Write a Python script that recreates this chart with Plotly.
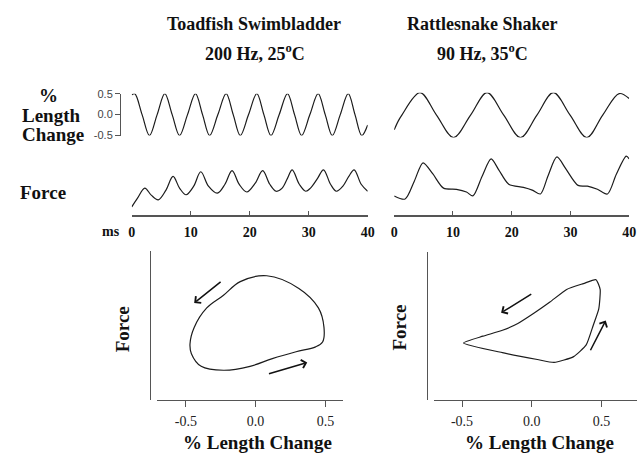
import plotly.graph_objects as go

# ---------------- data ----------------
# Toadfish swimbladder, time traces (ms)
toad_len_t = [0, 0.5, 1.75, 3.0, 4.3, 5.6, 6.85, 8.1, 9.45, 10.8, 12.0, 13.2, 14.6, 16.0,
              17.2, 18.4, 19.8, 21.2, 22.4, 23.6, 25.0, 26.4, 27.6, 28.8, 30.2, 31.6,
              32.8, 34.0, 35.35, 36.7, 37.85, 39.0, 40.0]
toad_len_v = [0.47, 0.5, 0.0, -0.5, 0.0, 0.5, 0.0, -0.5, 0.0, 0.5, 0.0, -0.5, 0.0, 0.5,
              0.0, -0.5, 0.0, 0.5, 0.0, -0.5, 0.0, 0.5, 0.0, -0.5, 0.0, 0.5,
              0.0, -0.5, 0.0, 0.5, 0.0, -0.5, -0.25]
toad_force_t = [0, 1.0, 2.2, 3.3, 4.5, 5.8, 7.0, 8.1, 9.2, 10.5, 11.7, 13.0, 14.5, 15.8,
                17.0, 18.2, 19.5, 20.9, 22.2, 23.4, 24.5, 25.5, 26.4, 27.2, 28.4, 29.5,
                30.3, 31.5, 32.5, 33.7, 34.7, 35.8, 36.8, 37.7, 38.9, 40.0]
toad_force_v = [0.02, 0.25, 0.50, 0.32, 0.20, 0.45, 0.80, 0.50, 0.33, 0.55, 0.92, 0.55,
                0.37, 0.60, 0.95, 0.60, 0.40, 0.62, 0.95, 0.60, 0.42, 0.50, 0.75, 0.97,
                0.60, 0.42, 0.50, 0.75, 0.97, 0.60, 0.42, 0.55, 0.80, 0.97, 0.60, 0.42]

# Rattlesnake shaker, time traces (ms)
rattle_len_t = [0, 0.7, 1.3, 4.4, 7.2, 10.1, 13.0, 15.8, 18.65, 21.5, 24.3, 27.1, 29.95,
                32.8, 35.5, 38.3, 40.0]
rattle_len_v = [-0.33, -0.13, 0.0, 0.5, 0.0, -0.5, 0.0, 0.5, 0.0, -0.5, 0.0, 0.5, 0.0,
                -0.5, 0.0, 0.48, 0.37]
rattle_force_t = [0, 1.85, 3.4, 4.9, 6.55, 8.4, 10.6, 12.3, 13.4, 14.95, 16.5, 17.8, 19.5,
                  22.0, 23.5, 24.9, 26.2, 27.7, 29.2, 31.3, 32.9, 34.6, 36.3, 37.8, 39.5, 40.0]
rattle_force_v = [0.30, 0.22, 0.67, 1.15, 0.87, 0.50, 0.47, 0.40, 0.30, 0.80, 1.25, 0.97,
                  0.60, 0.52, 0.45, 0.35, 0.82, 1.30, 1.00, 0.57, 0.55, 0.47, 0.35, 0.85,
                  1.32, 1.25]

# Work loops (force vs % length change)
toad_loop_len = [0.08, 0.31, 0.45, 0.49, 0.48, 0.43, 0.29, 0.12, -0.04, -0.23, -0.39,
                 -0.46, -0.47, -0.44, -0.35, -0.23, -0.11, 0.08]
toad_loop_force = [1.03, 0.90, 0.70, 0.50, 0.35, 0.30, 0.25, 0.18, 0.10, 0.06, 0.10,
                   0.23, 0.33, 0.50, 0.70, 0.83, 0.97, 1.03]
rattle_loop_len = [-0.49, -0.35, -0.21, -0.10, 0.02, 0.13, 0.25, 0.37, 0.46, 0.49, 0.48,
                   0.44, 0.39, 0.30, 0.16, 0.04, -0.21, -0.49]
rattle_loop_force = [0.32, 0.39, 0.45, 0.52, 0.63, 0.74, 0.87, 0.93, 0.97, 0.87, 0.67,
                     0.50, 0.30, 0.18, 0.12, 0.15, 0.22, 0.32]

# arrows on loops: (tail_len, tail_force, head_len, head_force)
toad_arrows = [(-0.24, 0.98, -0.44, 0.75), (0.085, 0.02, 0.37, 0.14)]
rattle_arrows = [(0.007, 0.83, -0.22, 0.63), (0.415, 0.23, 0.53, 0.55)]

time_ticks = [0, 10, 20, 30, 40]
time_tick_text = ['<b>0</b>', '<b>10</b>', '<b>20</b>', '<b>30</b>', '<b>40</b>']
len_ticks = [-0.5, 0.0, 0.5]
len_tick_text = ['-0.5', '0.0', '0.5']

# ---------------- layout helpers ----------------
W, H = 644, 460
def px(p):
    return p / W
def py(p):
    return 1 - p / H

LINE = '#1c1c1c'
AX = '#555555'
SERIF = 'Liberation Serif, Times New Roman, serif'

fig = go.Figure()

def trace(x, y, xa, ya, shape='spline', smooth=1.0):
    fig.add_trace(go.Scatter(x=x, y=y, xaxis=xa, yaxis=ya, mode='lines',
                             line=dict(color=LINE, width=1.2, shape=shape, smoothing=smooth),
                             hoverinfo='skip', showlegend=False))

trace(toad_len_t, toad_len_v, 'x', 'y')
trace(toad_force_t, toad_force_v, 'x2', 'y2')
trace(rattle_len_t, rattle_len_v, 'x3', 'y3')
trace(rattle_force_t, rattle_force_v, 'x4', 'y4', smooth=0.8)
trace(toad_loop_len, toad_loop_force, 'x5', 'y5')
trace(rattle_loop_len, rattle_loop_force, 'x6', 'y6', smooth=0.5)

hidden = dict(visible=False, showgrid=False, zeroline=False)
quiet_y = dict(showline=False, ticks='', showticklabels=False,
               showgrid=False, zeroline=False)
time_axis = dict(range=[0, 40], showline=True, linecolor='#555555', linewidth=1.5,
                 ticks='inside', ticklen=5, tickwidth=1.2, tickcolor='#555555',
                 tickvals=time_ticks, ticktext=time_tick_text,
                 showgrid=False, zeroline=False, ticklabelstandoff=3,
                 tickfont=dict(family=SERIF, size=14, color='#111'))
loop_x = dict(showline=True, linecolor=AX, linewidth=1, ticks='outside', ticklen=6,
              tickcolor=AX, tickvals=len_ticks, ticktext=len_tick_text, showgrid=False,
              zeroline=False, tickfont=dict(family=SERIF, size=14, color='#222'),
              ticklabelstandoff=2)
loop_y = dict(showline=True, linecolor=AX, linewidth=1, ticks='', showticklabels=False,
              showgrid=False, zeroline=False)

fig.update_layout(
    width=W, height=H, margin=dict(l=0, r=0, t=0, b=0),
    font=dict(family=SERIF, color='#111'),
    paper_bgcolor='white', plot_bgcolor='rgba(0,0,0,0)', showlegend=False,
    xaxis=dict(domain=[px(130), px(370)], range=[0, 40], anchor='y', **hidden),
    yaxis=dict(domain=[py(133), py(90)], range=[-0.5, 0.5], anchor='free', position=px(118),
               showline=True, linecolor=AX, linewidth=1, ticks='outside', ticklen=5,
               tickcolor=AX, tickvals=len_ticks, ticktext=len_tick_text, showgrid=False,
               zeroline=False, tickfont=dict(family='Liberation Sans, Arial, sans-serif',
                                             size=11, color='#444')),
    xaxis2=dict(domain=[px(130), px(370)], anchor='y2', **time_axis),
    yaxis2=dict(domain=[py(215), py(160)], range=[-0.2, 1.175], anchor='x2', **quiet_y),
    xaxis3=dict(domain=[px(397), px(636)], range=[0, 40], anchor='y3', **hidden),
    yaxis3=dict(domain=[py(135), py(89)], range=[-0.5, 0.5], anchor='x3', **hidden),
    xaxis4=dict(domain=[px(397), px(636)], anchor='y4', **time_axis),
    yaxis4=dict(domain=[py(215), py(150)], range=[-0.2, 1.425], anchor='x4', **quiet_y),
    xaxis5=dict(domain=[px(156), px(345)], range=[-0.704, 0.627], anchor='y5', **loop_x),
    yaxis5=dict(domain=[py(405), py(252)], range=[-0.25, 1.28], anchor='free',
                position=px(149), **loop_y),
    xaxis6=dict(domain=[px(437), 1.0], range=[-0.704, 0.754], anchor='y6', **loop_x),
    yaxis6=dict(domain=[py(405), py(253)], range=[-0.27, 1.25], anchor='free',
                position=px(430), **loop_y),
)

ann = []
def label(text, x, y, size=18, bold=True, angle=0, xanchor='center', yanchor='middle'):
    ann.append(dict(text='<b>%s</b>' % text if bold else text, x=px(x), y=py(y),
                    xref='paper', yref='paper', borderpad=0,
                    showarrow=False, xanchor=xanchor, yanchor=yanchor, textangle=angle,
                    font=dict(family=SERIF, size=size, color='#111')))

label('Toadfish Swimbladder', 254, 18)
label('200 Hz, 25<sup>o</sup>C', 255, 48)
label('Rattlesnake Shaker', 487, 18)
label('90 Hz, 35<sup>o</sup>C', 487, 48)
label('%', 45, 92, size=19)
label('Length', 48, 112, size=19)
label('Change', 50, 132, size=19)
label('Force', 40, 191, size=19)
label('ms', 109, 232, size=14)
label('Force', 120, 332, size=19, angle=-90)
label('Force', 402, 330, size=19, angle=-90)
label('% Length Change', 258, 460, size=19, yanchor='bottom')
label('% Length Change', 545, 460, size=19, yanchor='bottom')

for (xa, ya, arrows) in (('x5', 'y5', toad_arrows), ('x6', 'y6', rattle_arrows)):
    for (tx, ty, hx, hy) in arrows:
        ann.append(dict(x=hx, y=hy, ax=tx, ay=ty, xref=xa, yref=ya, axref=xa, ayref=ya,
                        text='', showarrow=True, arrowhead=4, arrowsize=1.1,
                        arrowwidth=1.5, arrowcolor='#111'))

fig.update_layout(annotations=ann)
fig.write_html('out.html')
